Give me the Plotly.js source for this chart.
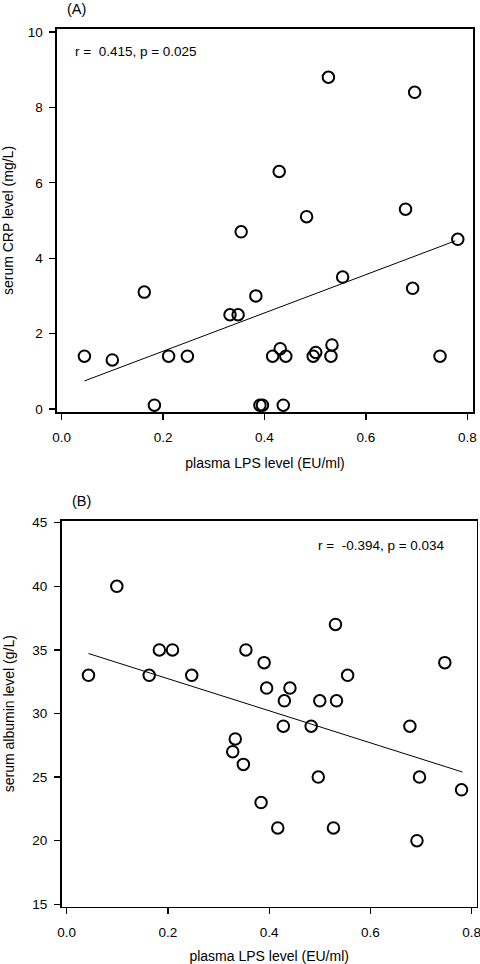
<!DOCTYPE html>
<html>
<head>
<meta charset="utf-8">
<script src="https://cdn.plot.ly/plotly-3.0.1.min.js"></script>
<style>html,body{margin:0;padding:0;background:#fff;}#chart{width:480px;height:964px;}</style>
</head>
<body>
<div id="chart"></div>
<script>
// Panel A: plasma LPS (EU/ml) vs serum CRP (mg/L)
const lpsA = [0.526, 0.696, 0.429, 0.483, 0.678, 0.354, 0.781, 0.554, 0.692, 0.163,
              0.383, 0.332, 0.348, 0.045, 0.100, 0.211, 0.248, 0.416, 0.431, 0.442,
              0.496, 0.501, 0.531, 0.533, 0.746, 0.183, 0.391, 0.396, 0.437];
const crp  = [8.8, 8.4, 6.3, 5.1, 5.3, 4.7, 4.5, 3.5, 3.2, 3.1,
              3.0, 2.5, 2.5, 1.4, 1.3, 1.4, 1.4, 1.4, 1.6, 1.4,
              1.4, 1.5, 1.4, 1.7, 1.4, 0.1, 0.1, 0.1, 0.1];
// Panel B: plasma LPS (EU/ml) vs serum albumin (g/L)
const lpsB = [0.099, 0.043, 0.163, 0.183, 0.209, 0.247, 0.354, 0.390, 0.395, 0.441,
              0.430, 0.500, 0.533, 0.531, 0.555, 0.747, 0.333, 0.328, 0.349, 0.428,
              0.483, 0.678, 0.497, 0.697, 0.780, 0.384, 0.417, 0.527, 0.692];
const albumin = [40, 33, 33, 35, 35, 33, 35, 34, 32, 32,
                 31, 31, 31, 37, 33, 34, 28, 27, 26, 29,
                 29, 29, 25, 25, 24, 23, 21, 21, 20];
// Regression lines (endpoints x) and stats
const fitXA = [0.045, 0.776];
const fitXB = [0.043, 0.782];
const statA = "r = \u00a00.415, p = 0.025";
const statB = "r = \u00a0-0.394, p = 0.034";
const xTitle = "plasma LPS level (EU/ml)";
const yTitleA = "serum CRP level (mg/L)";
const yTitleB = "serum albumin level (g/L)";
const xTicks = [0.0, 0.2, 0.4, 0.6, 0.8];
const xTickText = ["0.0", "0.2", "0.4", "0.6", "0.8"];
const yTicksA = [0, 2, 4, 6, 8, 10];
const yTicksB = [15, 20, 25, 30, 35, 40, 45];

function linfit(x, y) {
  const n = x.length;
  let sx = 0, sy = 0, sxx = 0, sxy = 0;
  for (let i = 0; i < n; i++) { sx += x[i]; sy += y[i]; sxx += x[i]*x[i]; sxy += x[i]*y[i]; }
  const b = (n*sxy - sx*sy) / (n*sxx - sx*sx);
  const a = (sy - b*sx) / n;
  return v => a + b*v;
}
const fA = linfit(lpsA, crp);
const fB = linfit(lpsB, albumin);

const W = 480, H = 964;
const FONT = "Liberation Sans, Arial, sans-serif";
const marker = {symbol: 'circle', size: 11.5, color: 'rgba(0,0,0,0)', line: {color: '#000', width: 2}};

const traces = [
  {x: lpsA, y: crp, type: 'scatter', mode: 'markers', marker: marker, xaxis: 'x', yaxis: 'y', hoverinfo: 'x+y'},
  {x: fitXA, y: fitXA.map(fA), type: 'scatter', mode: 'lines', line: {color: '#000', width: 1}, xaxis: 'x', yaxis: 'y'},
  {x: lpsB, y: albumin, type: 'scatter', mode: 'markers', marker: marker, xaxis: 'x2', yaxis: 'y2', hoverinfo: 'x+y'},
  {x: fitXB, y: fitXB.map(fB), type: 'scatter', mode: 'lines', line: {color: '#000', width: 1}, xaxis: 'x2', yaxis: 'y2'}
];

const axCommon = {
  showline: true, mirror: true, linecolor: '#000', linewidth: 1.6,
  ticks: 'outside', ticklen: 6, tickwidth: 1.2, tickcolor: '#000',
  showgrid: false, zeroline: false, automargin: false,
  ticklabeloverflow: 'allow',
  tickfont: {family: FONT, size: 13.5, color: '#000'}
};

const layout = {
  width: W, height: H,
  margin: {l: 0, r: 0, t: 0, b: 0},
  paper_bgcolor: '#fff', plot_bgcolor: '#fff',
  showlegend: false,
  font: {family: FONT, color: '#000'},
  xaxis: Object.assign({}, axCommon, {
    domain: [57/W, 473/W], range: [-0.009, 0.811], anchor: 'y',
    tickmode: 'array', tickvals: xTicks, ticktext: xTickText, ticklabelstandoff: 6,
    title: {text: xTitle, font: {family: FONT, size: 14, color: '#000'}, standoff: 14}
  }),
  yaxis: Object.assign({}, axCommon, {
    domain: [1 - 412/H, 1 - 29/H], range: [-0.08, 10.08], anchor: 'x',
    tickmode: 'array', tickvals: yTicksA, ticklabelstandoff: 4,
    title: {text: yTitleA, font: {family: FONT, size: 14, color: '#000'}, standoff: 14}
  }),
  xaxis2: Object.assign({}, axCommon, {
    domain: [61.7/W, 476.7/W], range: [-0.0099, 0.81], anchor: 'y2',
    tickmode: 'array', tickvals: xTicks, ticktext: xTickText, ticklabelstandoff: 6,
    title: {text: xTitle, font: {family: FONT, size: 14, color: '#000'}, standoff: 14}
  }),
  yaxis2: Object.assign({}, axCommon, {
    domain: [1 - 906.7/H, 1 - 520.7/H], range: [14.81, 45.16], anchor: 'x2',
    tickmode: 'array', tickvals: yTicksB, ticklabelstandoff: 4,
    title: {text: yTitleB, font: {family: FONT, size: 14, color: '#000'}, standoff: 14}
  }),
  annotations: [
    {text: "(A)", xref: 'paper', yref: 'paper', x: 76/W, y: 1 - 9/H, xanchor: 'center', yanchor: 'middle', showarrow: false, font: {family: FONT, size: 14.5, color: '#000'}},
    {text: "(B)", xref: 'paper', yref: 'paper', x: 81/W, y: 1 - 501/H, xanchor: 'center', yanchor: 'middle', showarrow: false, font: {family: FONT, size: 14.5, color: '#000'}},
    {text: statA, xref: 'paper', yref: 'paper', x: 73/W, y: 1 - 51.7/H, xanchor: 'left', yanchor: 'middle', showarrow: false, font: {family: FONT, size: 13.5, color: '#000'}},
    {text: statB, xref: 'paper', yref: 'paper', x: 316/W, y: 1 - 545/H, xanchor: 'left', yanchor: 'middle', showarrow: false, font: {family: FONT, size: 13.5, color: '#000'}}
  ]
};

Plotly.newPlot('chart', traces, layout, {staticPlot: true, displayModeBar: false});
</script>
</body>
</html>
